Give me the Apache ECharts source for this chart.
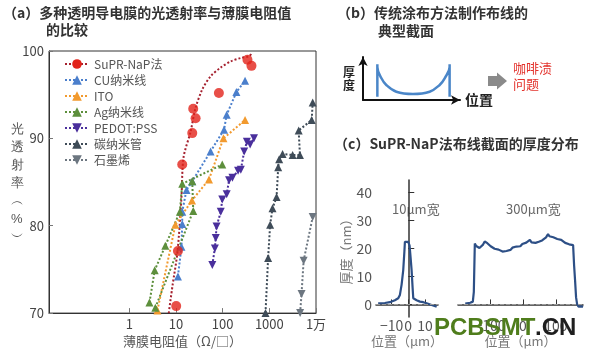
<!DOCTYPE html>
<html>
<head>
<meta charset="utf-8">
<title>透明导电膜比较</title>
<script src="https://cdn.jsdelivr.net/npm/echarts@6.0.0/dist/echarts.min.js"></script>
<style>
  html, body { margin: 0; padding: 0; background: #fff; }
  #main { width: 600px; height: 353px; }
</style>
</head>
<body>
<div id="main"></div>
<script>
// (a) 薄膜电阻值(Ω/□) vs 光透射率(%)
const legendNames = ['SuPR-NaP法', 'CU纳米线', 'ITO', 'Ag纳米线', 'PEDOT:PSS', '碳纳米管', '石墨烯'];
const xTickValues = [1, 10, 100, 1000, 10000];
const xTickLabels = ['1', '10', '100', '1000', '1万'];

const supraPoints = [[10.1, 70.8], [11, 77.1], [13.6, 87.0], [22.3, 90.6], [26.3, 92.3], [23.4, 93.4], [83, 95.2], [414, 98.3], [340, 99.0]];
const supraFit = [[7, 70], [8.4, 73.1], [10.8, 77.1], [13.1, 83.3], [14.5, 87.8], [20.6, 90.8], [26, 93.4], [36.6, 95.6], [55, 97.1], [90.6, 98.1], [148, 98.8], [244, 99.2], [363, 99.4], [440, 99.8]];
const cuWire = [[11.0, 74.2], [13.1, 77.6], [13.6, 80.2], [13.6, 81.6], [16.8, 84.1], [22.3, 85.1], [55, 88.5], [107, 91.0], [122, 92.7], [197, 95.3], [302, 96.6]];
const ito = [[4.0, 70.3], [9.7, 80.1], [22, 82.9], [51, 85.3], [104, 90.0], [302, 92.1]];
const agWire = [[2.7, 71.2], [3.5, 74.9], [5.9, 77.7], [12.1, 81.6], [13.6, 84.8], [98, 87.0]];
const agWire2 = [[3.6, 70.6], [23.4, 81.7], [22.3, 85.1]];
const pedot = [[60, 75.5], [68, 77.4], [71, 78.6], [74, 79.9], [91, 81.6], [98, 83.0], [122, 83.6], [137, 85.2], [162, 85.5], [214, 86.3], [245, 86.4], [289, 88.5], [330, 89.6], [388, 89.3], [470, 90.0]];
const cnt = [[828, 70], [942, 76.3], [1040, 80.1], [1170, 82.0], [1430, 83.3], [1550, 86.7], [1625, 87.6], [1920, 88.2], [3160, 88.1], [4530, 88.1], [4250, 90.9], [8090, 92.1], [8500, 94.1]];
const graphene = [[4570, 70], [4900, 72.2], [5430, 76.0], [8500, 81.0]];

// (b) 示意截面
const bProfile = [[14.8, 7.7], [14.8, 83], [14.8, 76.7], [19, 50.5], [24, 35], [34.4, 19.3], [51.5, 14], [68.7, 19.3], [79, 35], [84.2, 50.5], [89.3, 76.7], [89.3, 83], [89.3, 7.7]];

// (c) 厚度分布
const thinLine = [[-18, 0.4], [-14, 0.5], [-11, 0.8], [-8, 1.5], [-6, 2.2], [-5, 3.4], [-4, 7], [-3, 12.3], [-2.3, 19], [-2, 22.4], [-1, 22.6], [0, 22.4], [0.8, 21], [1.5, 16], [2, 12.3], [2.6, 6], [3, 2.2], [5, 1.5], [7, 1.0], [9, 0.8], [11, 0.4], [14, -0.2], [17, -0.8]];
const wideLine = [[-175, 0.3], [-160, 0.6], [-152, 1.0], [-149, 4.5], [-146, 21.8], [-142, 20.9], [-137, 21.3], [-132, 20.2], [-127, 20.6], [-121, 21.4], [-116, 22.5], [-112, 23.0], [-108, 21.9], [-104, 21.2], [-98, 20.8], [-92, 20.2], [-86, 19.9], [-80, 19.4], [-74, 19.6], [-68, 19.0], [-62, 18.9], [-56, 19.4], [-50, 19.1], [-44, 19.7], [-38, 19.5], [-32, 20.3], [-26, 20.0], [-20, 20.7], [-14, 21.2], [-8, 20.8], [-2, 21.6], [4, 21.3], [10, 22.1], [16, 22.6], [21, 23.1], [26, 22.2], [32, 21.7], [38, 22.0], [42, 21.5], [48, 22.4], [54, 22.0], [58, 22.9], [64, 23.3], [70, 24.0], [76, 25.2], [80, 24.4], [86, 24.9], [92, 24.0], [98, 23.8], [104, 23.4], [110, 22.9], [116, 23.1], [122, 22.4], [128, 22.0], [134, 21.8], [140, 21.5], [146, 21.6], [152, 21.2], [155, 14], [158, 8.5], [161, 2.5], [164, 0.2], [168, -0.8], [173, -1.1], [178, -0.7], [182, -0.9]];
const thickTicks = [0, 10, 20, 30, 40];
const thinTicks = [-10, 0, 10];
const wideTicks = [-100, 0, 100];

const FONT = '"Noto Sans CJK SC", "Noto Sans", sans-serif';

function dotted(name, data, color, lineColor, symbol, rotate, size) {
    return {
        name: name, type: 'line', xAxisIndex: 0, yAxisIndex: 0,
        data: data, symbol: symbol, symbolRotate: rotate, symbolSize: size,
        itemStyle: { color: color },
        lineStyle: { color: lineColor, type: 'dotted', width: 2 }
    };
}

const minusFmt = v => String(v).replace('-', '−');
const zeroLine = {
    silent: true, symbol: 'none', label: { show: false },
    lineStyle: { type: 'dashed', color: '#999', width: 1 },
    data: [{ yAxis: 0 }]
};
const smallLabel = (ticks) => ({
    customValues: ticks, margin: 2, fontSize: 14, color: '#555', formatter: minusFmt,
    hideOverlap: false, showMinLabel: true, showMaxLabel: true
});

const chart = echarts.init(document.getElementById('main'));
chart.setOption({
    animation: false,
    textStyle: { fontFamily: FONT },
    title: [
        { text: '（a）多种透明导电膜的光透射率与薄膜电阻值', left: 3, top: 6 },
        { text: '的比较', left: 46, top: 23 },
        { text: '（b）传统涂布方法制作布线的', left: 337, top: 6 },
        { text: '典型截面', left: 378, top: 24 },
        { text: '（c）SuPR-NaP法布线截面的厚度分布', left: 334, top: 137 }
    ].map(t => Object.assign(t, { padding: 0, textStyle: { fontSize: 14, fontWeight: 'bold', color: '#333', fontFamily: FONT } })),
    legend: {
        data: legendNames, left: 64, top: 58, orient: 'vertical',
        itemWidth: 24, itemHeight: 12, itemGap: 4, padding: 0,
        textStyle: { fontSize: 12, color: '#555' }
    },
    grid: [
        { left: 49, top: 51, width: 267, height: 267, show: true, borderColor: '#333', borderWidth: 1 },
        { left: 363, top: 57, width: 97, height: 43 },
        { left: 376, top: 180, width: 62, height: 137 },
        { left: 458, top: 180, width: 125, height: 137 }
    ],
    xAxis: [
        {
            gridIndex: 0, type: 'log', min: 0.019, max: 10000,
            name: '薄膜电阻值（Ω/□）', nameLocation: 'middle', nameGap: 20,
            nameTextStyle: { fontSize: 13, color: '#555' },
            axisLine: { lineStyle: { color: '#333' } },
            axisTick: { inside: true, length: 5, customValues: xTickValues, lineStyle: { color: '#777' } },
            axisLabel: { customValues: xTickValues, margin: 4, fontSize: 13, color: '#444',
                formatter: v => xTickLabels[xTickValues.indexOf(Math.round(v))] || '' },
            minorTick: { show: false }, splitLine: { show: false }
        },
        {
            gridIndex: 1, type: 'value', min: 0, max: 100,
            name: '位置', nameGap: 5, nameTextStyle: { fontSize: 14, fontWeight: 'bold', color: '#222' },
            axisLine: { symbol: ['none', 'arrow'], symbolSize: [7, 9], lineStyle: { color: '#111', width: 2 } },
            axisTick: { show: false }, axisLabel: { show: false }, splitLine: { show: false }
        },
        {
            gridIndex: 2, type: 'value', min: -19.3, max: 17.8,
            name: '位置（μm）', nameLocation: 'middle', nameGap: 18,
            nameTextStyle: { fontSize: 13, color: '#777' },
            axisLine: { lineStyle: { color: '#333', width: 1.5 } },
            axisTick: { inside: true, length: 5, customValues: thinTicks, lineStyle: { color: '#333' } },
            axisLabel: smallLabel(thinTicks),
            splitLine: { show: false }
        },
        {
            gridIndex: 3, type: 'value', min: -197, max: 182,
            name: '位置（μm）', nameLocation: 'middle', nameGap: 18,
            nameTextStyle: { fontSize: 13, color: '#777' },
            axisLine: { lineStyle: { color: '#333', width: 1.5 } },
            axisTick: { inside: true, length: 5, customValues: wideTicks, lineStyle: { color: '#333' } },
            axisLabel: smallLabel(wideTicks),
            splitLine: { show: false }
        }
    ],
    yAxis: [
        {
            gridIndex: 0, type: 'value', min: 70, max: 100, interval: 10,
            axisLine: { lineStyle: { color: '#333' } },
            axisTick: { inside: true, length: 4, lineStyle: { color: '#777' } },
            axisLabel: { fontSize: 13, color: '#444', margin: 5 },
            splitLine: { show: false }
        },
        {
            gridIndex: 1, type: 'value', min: 0, max: 100,
            name: '厚\n度', nameLocation: 'middle', nameGap: 8, nameRotate: 0,
            nameTextStyle: { fontSize: 12, fontWeight: 'bold', color: '#222', lineHeight: 13 },
            axisLine: { symbol: ['none', 'arrow'], symbolSize: [7, 9], lineStyle: { color: '#111', width: 2 } },
            axisTick: { show: false }, axisLabel: { show: false }, splitLine: { show: false }
        },
        {
            gridIndex: 2, type: 'value', min: -4.5, max: 44.5,
            name: '厚度（nm）', nameLocation: 'middle', nameGap: 22,
            nameTextStyle: { fontSize: 13, color: '#777' },
            axisLine: { lineStyle: { color: '#333', width: 1.5 } },
            axisTick: { inside: true, length: 6, customValues: thickTicks, lineStyle: { color: '#333' } },
            axisLabel: { customValues: thickTicks, margin: 4, fontSize: 14, color: '#555' },
            splitLine: { show: false }
        },
        { gridIndex: 3, type: 'value', min: -4.5, max: 44.5, show: false, splitLine: { show: false } }
    ],
    series: [
        {
            name: 'SuPR-NaP法', type: 'line', xAxisIndex: 0, yAxisIndex: 0,
            data: supraFit, smooth: 0.3, symbol: 'circle', showSymbol: false,
            itemStyle: { color: '#e2231a' },
            lineStyle: { color: '#a5202e', type: 'dotted', width: 2 }
        },
        {
            name: 'SuPR-NaP法', type: 'scatter', xAxisIndex: 0, yAxisIndex: 0,
            data: supraPoints, symbol: 'circle', symbolSize: 10, itemStyle: { color: '#e2231a' }, z: 5
        },
        dotted('CU纳米线', cuWire, '#4b7fcc', '#4b7fcc', 'triangle', 0, 8),
        dotted('ITO', ito, '#f29a2e', '#f29a2e', 'triangle', 0, 8),
        dotted('Ag纳米线', agWire, '#5d8f3c', '#5d8f3c', 'triangle', 0, 8),
        dotted('Ag纳米线', agWire2, '#5d8f3c', '#5d8f3c', 'triangle', 0, 8),
        dotted('PEDOT:PSS', pedot, '#4a2f9c', '#4a2f9c', 'triangle', 180, 8),
        dotted('碳纳米管', cnt, '#3f4c58', '#3f4c58', 'triangle', 0, 8),
        dotted('石墨烯', graphene, '#6c7680', '#6c7680', 'triangle', 180, 8),
        {
            type: 'line', xAxisIndex: 1, yAxisIndex: 1, data: bProfile, symbol: 'none',
            smooth: 0.4, lineStyle: { color: '#4a86c8', width: 2.5 }
        },
        {
            type: 'line', xAxisIndex: 2, yAxisIndex: 2, data: thinLine, symbol: 'none',
            lineStyle: { color: '#2d4f86', width: 2.2 }, markLine: zeroLine
        },
        {
            type: 'line', xAxisIndex: 3, yAxisIndex: 3, data: wideLine, symbol: 'none',
            lineStyle: { color: '#2d4f86', width: 2.2 }, markLine: zeroLine
        }
    ],
    graphic: [
        {
            type: 'text', left: 11, top: 120,
            style: { text: '光\n透\n射\n率\n︵\n%\n︶', fontSize: 13, lineHeight: 18, fill: '#555', align: 'center', font: '13px ' + FONT }
        },
        {
            type: 'polygon', shape: { points: [[488, 76], [497, 76], [497, 72.5], [507, 81], [497, 89.5], [497, 86], [488, 86]] },
            style: { fill: '#8a8a8a' }
        },
        {
            type: 'text', left: 513, top: 60,
            style: { text: '咖啡渍\n问题', font: '13px ' + FONT, lineHeight: 16, fill: '#e3322c' }
        },
        { type: 'text', left: 392, top: 203, style: { text: '10μm宽', font: '13px ' + FONT, fill: '#666' } },
        { type: 'text', left: 506, top: 203, style: { text: '300μm宽', font: '13px ' + FONT, fill: '#666' } },
        { type: 'text', left: 434, top: 316, z: 100, style: { text: 'PCBSMT', font: 'bold 24px "Liberation Sans", Arial, sans-serif', fill: '#4f7d1c' } },
        { type: 'text', left: 535, top: 316, z: 100, style: { text: '.CN', font: 'bold 24px "Liberation Sans", Arial, sans-serif', fill: '#1e1e1e' } }
    ]
});
</script>
</body>
</html>
